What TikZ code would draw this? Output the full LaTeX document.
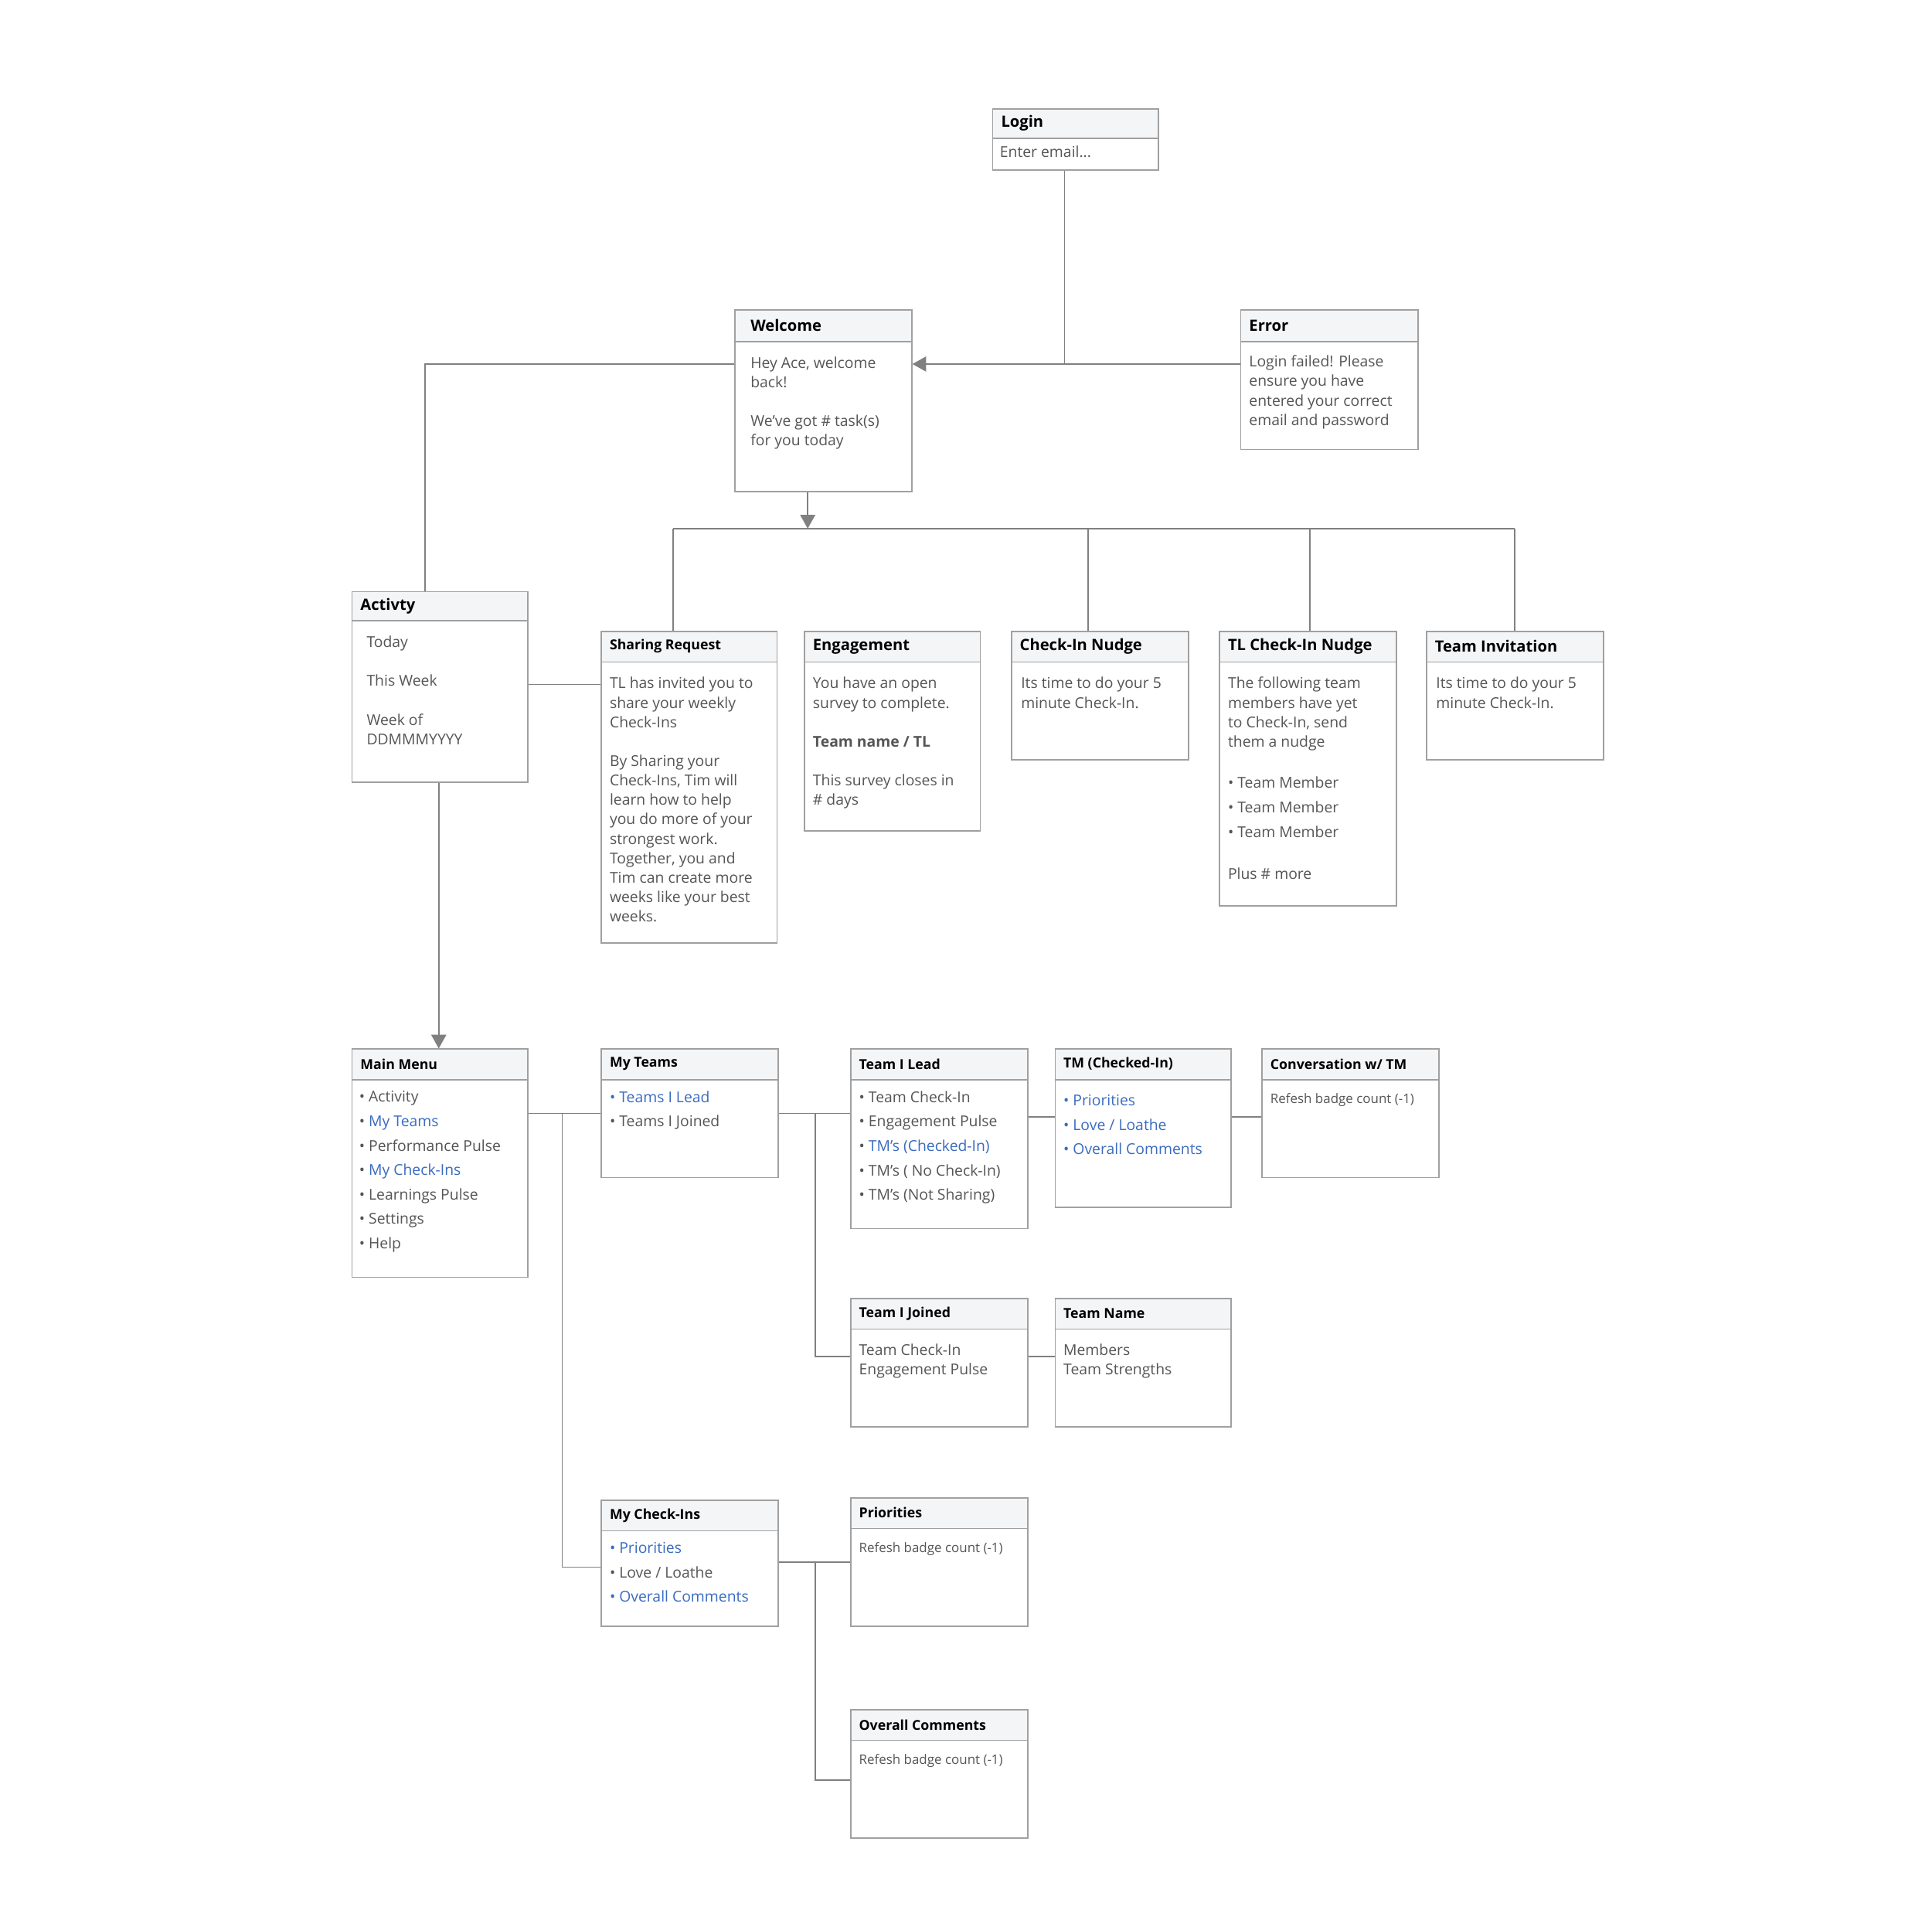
\documentclass[tikz,border=0pt]{standalone}
\usepackage{fontspec}
\setmainfont{Open Sans}
\usetikzlibrary{arrows.meta}
\definecolor{bd}{HTML}{A0A0A0}
\definecolor{hd}{HTML}{F4F5F7}
\definecolor{tx}{HTML}{555555}
\definecolor{bl}{HTML}{3A6BC0}
\definecolor{ln}{HTML}{808080}
\tikzset{
 boxsh/.style={draw=bd,line width=1pt,inner sep=0pt,anchor=north west},
 ttl/.style={anchor=west,inner sep=0pt,text=black,font=\bfseries\fontsize{12.5}{15}\selectfont},
 ttls/.style={anchor=west,inner sep=0pt,text=black,font=\bfseries\fontsize{11}{14}\selectfont},
 body/.style={anchor=north west,inner sep=0pt,text=tx,align=left,font=\fontsize{12}{15.6}\selectfont},
 lst/.style={anchor=north west,inner sep=0pt,text=tx,align=left,font=\fontsize{12}{19.6}\selectfont},
 sml/.style={anchor=north west,inner sep=0pt,text=tx,align=left,font=\fontsize{10.5}{14}\selectfont},
 conn/.style={draw=ln,line width=1pt},
 arr/.style={conn,-{Triangle[length=11pt,width=12pt]}}
}
% name, x1, y1, x2, y2, header bottom, title, title style
\newcommand\mybox[8]{%
 \fill[hd] (#2,#3) rectangle (#4,#6);
 \draw[bd,line width=1pt] (#2,#6) -- (#4,#6);
 \node[boxsh,minimum width={(#4-#2)*1pt},minimum height={(#5-#3)*1pt}] (#1) at (#2,#3) {};
 \node[#8] (#1t) at ({#2+7},{(#3+#6)/2}) {#7};
}
\newcommand\bl[1]{\textcolor{bl}{#1}}
\begin{document}
\begin{tikzpicture}[x=1pt,y=-1pt]
\useasboundingbox (0,0) rectangle (1550,1540);
\fill[white] (0,0) rectangle (1550,1540);

\mybox{login}{796}{87}{929}{136}{111}{Login}{ttl}
\node[body] (loginb) at (802,117) {Enter email...};

\mybox{welcome}{589}{248}{731}{394}{274}{\hspace{6pt}Welcome}{ttl}
\node[body] (welb) at (602,286) {Hey Ace, welcome\\back!\\[15.6pt]We've got \# task(s)\\for you today};

\mybox{error}{995}{248}{1137}{360}{274}{Error}{ttl}
\node[body] (errb) at (1002,285) {Login failed! Please\\ensure you have\\entered your correct\\email and password};

\mybox{act}{282}{474}{423}{627}{498}{Activty}{ttl}
\node[body] (actb) at (294,510) {Today\\[15.6pt]This Week\\[15.6pt]Week of\\DDMMMYYYY};

\mybox{share}{482}{506}{623}{756}{531}{Sharing Request}{ttls}
\node[body] (shb) at (489,543) {TL has invited you to\\share your weekly\\Check-Ins\\[15.6pt]By Sharing your\\Check-Ins, Tim will\\learn how to help\\you do more of your\\strongest work.\\Together, you and\\Tim can create more\\weeks like your best\\weeks.};

\mybox{eng}{645}{506}{786}{666}{531}{Engagement}{ttl}
\node[body] (engb) at (652,543) {You have an open\\survey to complete.\\[15.6pt]\textbf{Team name / TL}\\[15.6pt]This survey closes in\\\# days};

\mybox{cin}{811}{506}{953}{609}{531}{Check-In Nudge}{ttl}
\node[body] (cinb) at (819,543) {Its time to do your 5\\minute Check-In.};

\mybox{tlcin}{978}{506}{1120}{726}{531}{TL Check-In Nudge}{ttl}
\node[body] (tlb) at (985,543) {The following team\\members have yet\\to Check-In, send\\them a nudge};
\node[lst] (tlb2) at (985,623) {• Team Member\\• Team Member\\• Team Member};
\node[body] (tlb3) at (985,696) {Plus \# more};

\mybox{inv}{1144}{506}{1286}{609}{531}{Team Invitation}{ttl}
\node[body] (invb) at (1152,543) {Its time to do your 5\\minute Check-In.};

\mybox{menu}{282}{841}{423}{1024}{866}{Main Menu}{ttls}
\node[lst] (menub) at (288,875) {• Activity\\• \bl{My Teams}\\• Performance Pulse\\• \bl{My Check-Ins}\\• Learnings Pulse\\• Settings\\• Help};

\mybox{myteams}{482}{841}{624}{944}{866}{My Teams}{ttls}
\node[lst] (mtb) at (489,875) {\bl{• Teams I Lead}\\• Teams I Joined};

\mybox{lead}{682}{841}{824}{985}{866}{Team I Lead}{ttls}
\node[lst] (leadb) at (689,875) {• Team Check-In\\• Engagement Pulse\\• \bl{TM's (Checked-In)}\\• TM's ( No Check-In)\\• TM's (Not Sharing)};

\mybox{tmc}{846}{841}{987}{968}{866}{TM (Checked-In)}{ttls}
\node[lst] (tmcb) at (853,878) {\bl{• Priorities}\\\bl{• Love / Loathe}\\\bl{• Overall Comments}};

\mybox{conv}{1012}{841}{1154}{944}{866}{Conversation w/ TM}{ttls}
\node[sml] (convb) at (1019,877) {Refesh badge count (-1)};

\mybox{joined}{682}{1041}{824}{1144}{1066}{Team I Joined}{ttls}
\node[body] (joinb) at (689,1078) {Team Check-In\\Engagement Pulse};

\mybox{tname}{846}{1041}{987}{1144}{1066}{Team Name}{ttls}
\node[body] (tnb) at (853,1078) {Members\\Team Strengths};

\mybox{mci}{482}{1203}{624}{1304}{1228}{My Check-Ins}{ttls}
\node[lst] (mcib) at (489,1237) {\bl{• Priorities}\\• Love / Loathe\\\bl{• Overall Comments}};

\mybox{prio}{682}{1201}{824}{1304}{1226}{Priorities}{ttls}
\node[sml] (priob) at (689,1237) {Refesh badge count (-1)};

\mybox{overall}{682}{1371}{824}{1474}{1396}{Overall Comments}{ttls}
\node[sml] (ovb) at (689,1407) {Refesh badge count (-1)};

% connectors
\coordinate (jlog) at (854,292);
\draw[conn] (login.south -| jlog) -- (jlog);
\draw[arr] (error.west |- jlog) -- (welcome.east |- jlog);
\draw[conn] (welcome.west |- jlog) -| (act.north -| 341,0);
\coordinate (bus) at (648,424);
\draw[arr] (welcome.south -| bus) -- (bus);
\draw[conn] (540,424) -- (1215,424);
\draw[conn] (540,424) -- (share.north -| 540,0);
\draw[conn] (873,424) -- (cin.north -| 873,0);
\draw[conn] (1051,424) -- (tlcin.north -| 1051,0);
\draw[conn] (1215,424) -- (inv.north -| 1215,0);
\draw[conn] (act.east |- 0,549) -- (share.west |- 0,549);
\draw[arr] (act.south -| 352,0) -- (menu.north -| 352,0);

\draw[conn] (menu.east |- 0,893) -- (myteams.west |- 0,893);
\draw[conn] (451,893) |- (mci.west |- 0,1257);
\draw[conn] (myteams.east |- 0,893) -- (lead.west |- 0,893);
\draw[conn] (654,893) |- (joined.west |- 0,1088);
\draw[conn] (lead.east |- 0,896) -- (tmc.west |- 0,896);
\draw[conn] (tmc.east |- 0,896) -- (conv.west |- 0,896);
\draw[conn] (joined.east |- 0,1088) -- (tname.west |- 0,1088);
\draw[conn] (mci.east |- 0,1253) -- (prio.west |- 0,1253);
\draw[conn] (654,1253) |- (overall.west |- 0,1428);
\end{tikzpicture}
\end{document}
